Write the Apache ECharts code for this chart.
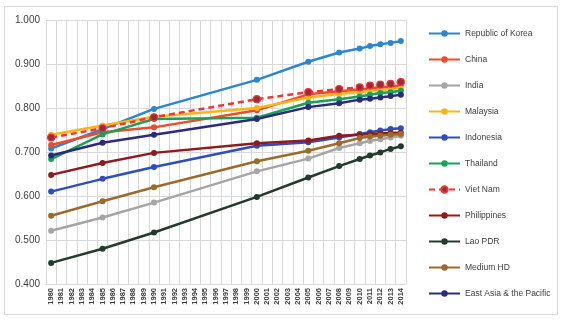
<!DOCTYPE html>
<html><head><meta charset="utf-8">
<script src="https://cdn.jsdelivr.net/npm/echarts@6/dist/echarts.min.js"></script>
<style>html,body{margin:0;padding:0;background:#fff}#c{width:571px;height:325px}</style>
</head><body><div id="c"></div>
<script>
// categories: every year 1980..2014 (tick labels)
const years = ["1980","1981","1982","1983","1984","1985","1986","1987","1988","1989","1990","1991","1992","1993","1994","1995","1996","1997","1998","1999","2000","2001","2002","2003","2004","2005","2006","2007","2008","2009","2010","2011","2012","2013","2014"];
// years that carry data
const dataYears = ["1980","1985","1990","2000","2005","2008","2010","2011","2012","2013","2014"];
const seriesNames = ["Republic of Korea","China","India","Malaysia","Indonesia","Thailand","Viet Nam","Philippines","Lao PDR","Medium HD","East Asia & the Pacific"];
const korea      = [0.708,0.752,0.798,0.864,0.905,0.926,0.935,0.941,0.945,0.948,0.952];
const china      = [0.716,0.745,0.756,0.795,0.831,0.838,0.842,0.845,0.847,0.849,0.851];
const india      = [0.521,0.551,0.585,0.656,0.685,0.709,0.720,0.725,0.729,0.733,0.737];
const malaysia   = [0.739,0.760,0.780,0.800,0.824,0.832,0.836,0.839,0.841,0.843,0.845];
const indonesia  = [0.610,0.639,0.666,0.714,0.722,0.733,0.741,0.745,0.749,0.752,0.754];
const thailand   = [0.684,0.740,0.775,0.778,0.812,0.820,0.826,0.830,0.834,0.836,0.839];
const vietnam    = [0.733,0.754,0.779,0.820,0.836,0.843,0.847,0.851,0.853,0.855,0.859];
const philippines= [0.648,0.675,0.698,0.720,0.726,0.737,0.739,0.741,0.742,0.743,0.744];
const lao        = [0.448,0.480,0.517,0.598,0.642,0.668,0.684,0.692,0.699,0.707,0.713];
const mediumHD   = [0.555,0.588,0.620,0.679,0.703,0.720,0.732,0.735,0.737,0.739,0.741];
const eastAsia   = [0.692,0.721,0.739,0.775,0.802,0.811,0.819,0.821,0.824,0.827,0.830];
const yTicks = [0.4,1.0,0.1]; // min, max, interval

const allValues = [korea,china,india,malaysia,indonesia,thailand,vietnam,philippines,lao,mediumHD,eastAsia];
const colors = ['#2A86CF','#EE4A2C','#A5A5A5','#FDB515','#2E4DBE','#1AA05A','#F03535','#8E1B1E','#233A2C','#9B6B2C','#2C2A7C'];

function expand(vals){
  return years.map(y => { const i = dataYears.indexOf(y); return i >= 0 ? vals[i] : null; });
}

const series = seriesNames.map((n, k) => {
  const vn = n === 'Viet Nam';
  return {
    name: n, type: 'line', data: expand(allValues[k]), connectNulls: true,
    symbol: 'circle', symbolSize: vn ? 7 : 6, showSymbol: true,
    lineStyle: { color: colors[k], width: 2.5, type: vn ? [6,4] : 'solid' },
    itemStyle: { color: vn ? '#9B2A3A' : colors[k], borderColor: colors[k], borderWidth: vn ? 1.2 : 0 },
    emphasis: { disabled: true }, animation: false
  };
});

const chart = echarts.init(document.getElementById('c'), null, { renderer: 'canvas' });
chart.setOption({
  animation: false,
  color: colors,
  graphic: [{ type: 'rect', shape: { x: 4.5, y: 6.5, width: 553, height: 308 }, style: { fill: 'none', stroke: '#D9D9D9', lineWidth: 1 } }],
  grid: { left: 46, top: 20, width: 360, height: 264, containLabel: false },
  legend: {
    orient: 'vertical', left: 423, top: 24, itemWidth: 31, itemHeight: 8, itemGap: 17,
    data: seriesNames,
    textStyle: { fontFamily: 'Liberation Sans', fontSize: 8.5, color: '#404040' }
  },
  xAxis: {
    type: 'category', data: years, boundaryGap: true,
    axisLine: { show: true, lineStyle: { color: '#D9D9D9' } },
    axisTick: { show: false },
    axisLabel: { interval: 0, rotate: 90, fontSize: 7.5, fontWeight: 'bold', color: '#404040', fontFamily: 'Liberation Sans', margin: 4 },
    splitLine: { show: true, interval: 0, lineStyle: { color: '#D9D9D9', width: 1 } }
  },
  yAxis: {
    type: 'value', min: yTicks[0], max: yTicks[1], interval: yTicks[2],
    axisLine: { show: false }, axisTick: { show: false },
    axisLabel: { formatter: v => v.toFixed(3), fontSize: 10, color: '#404040', fontFamily: 'Liberation Sans', margin: 6 },
    splitLine: { show: true, lineStyle: { color: '#D9D9D9', width: 1 } }
  },
  series: series
});
</script></body></html>
